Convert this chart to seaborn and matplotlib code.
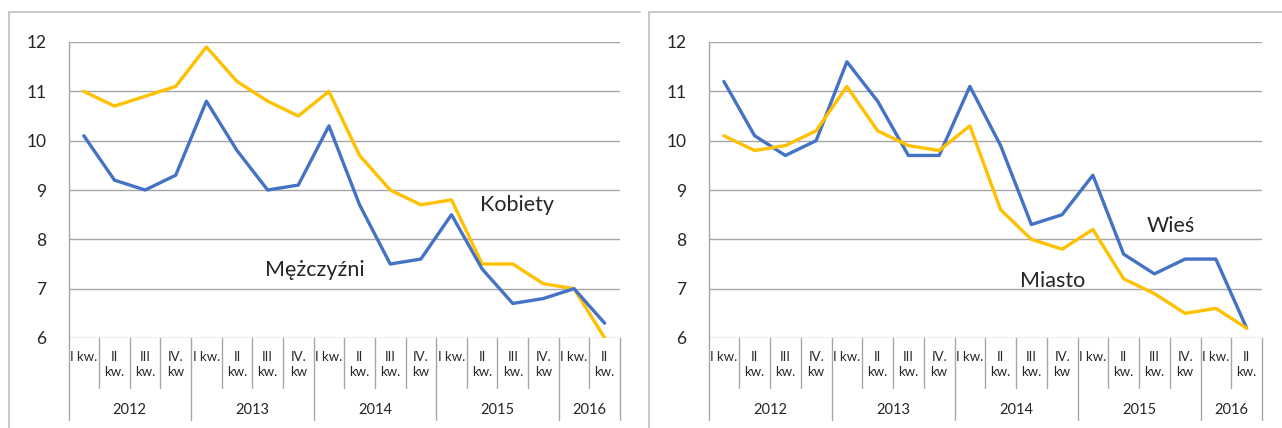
import pandas as pd
import seaborn as sns
import matplotlib.pyplot as plt
from matplotlib.lines import Line2D

# dane: stopa (kwartalnie, 2012 I - 2016 II)
kwartaly = ['I kw.', 'II\nkw.', 'III\nkw.', 'IV.\nkw'] * 4 + ['I kw.', 'II\nkw.']
lata = ['2012', '2013', '2014', '2015', '2016']
lata_dl = [4, 4, 4, 4, 2]

kobiety = [11.0, 10.7, 10.9, 11.1, 11.9, 11.2, 10.8, 10.5, 11.0, 9.7, 9.0, 8.7, 8.8, 7.5, 7.5, 7.1, 7.0, 6.0]
mezczyzni = [10.1, 9.2, 9.0, 9.3, 10.8, 9.8, 9.0, 9.1, 10.3, 8.7, 7.5, 7.6, 8.5, 7.4, 6.7, 6.8, 7.0, 6.3]
wies = [11.2, 10.1, 9.7, 10.0, 11.6, 10.8, 9.7, 9.7, 11.1, 9.9, 8.3, 8.5, 9.3, 7.7, 7.3, 7.6, 7.6, 6.2]
miasto = [10.1, 9.8, 9.9, 10.2, 11.1, 10.2, 9.9, 9.8, 10.3, 8.6, 8.0, 7.8, 8.2, 7.2, 6.9, 6.5, 6.6, 6.2]

BLUE = '#4472C4'
ORANGE = '#FFC000'
GRID = '#A6A6A6'
BORDER = '#BFBFBF'

sns.set_style('white')
plt.rcParams['font.family'] = ['Lato', 'DejaVu Sans']

W, H = 1282, 428
fig = plt.figure(figsize=(W / 100, H / 100), dpi=100)


def px_axes(x0, x1, ytop, ybot):
    return fig.add_axes([x0 / W, 1 - ybot / H, (x1 - x0) / W, (ybot - ytop) / H])


def long_df(s1, n1, s2, n2):
    n = len(s1)
    return pd.DataFrame({
        'idx': list(range(n)) * 2,
        'wartosc': s1 + s2,
        'seria': [n1] * n + [n2] * n,
    })


def draw_panel(ax, df, colors, labels):
    sns.lineplot(data=df, x='idx', y='wartosc', hue='seria', palette=colors,
                 linewidth=2.4, legend=False, ax=ax, zorder=3)
    ax.set_xlim(-0.5, len(kwartaly) - 0.5)
    ax.set_ylim(6, 12)
    ax.set_yticks(range(6, 13))
    ax.grid(axis='y', color=GRID, lw=1)
    ax.grid(axis='x', visible=False)
    ax.set_xticks([])
    ax.set_xlabel('')
    ax.set_ylabel('')
    for s in ['top', 'right', 'bottom']:
        ax.spines[s].set_visible(False)
    ax.spines['left'].set_color(GRID)
    ax.spines['left'].set_linewidth(1)
    ax.tick_params(axis='y', length=6, width=1, color=GRID, labelsize=12.5, pad=10)

    trans = ax.get_xaxis_transform()
    hpx = 296.0
    # separatory kategorii
    bounds = [0]
    for d in lata_dl:
        bounds.append(bounds[-1] + d)
    for k in range(len(kwartaly) + 1):
        yb = -(420 - 338) / hpx if k in bounds else -(388 - 338) / hpx
        ax.plot([k - 0.5, k - 0.5], [0, yb], color=GRID, lw=1, transform=trans, clip_on=False)
    for i, q in enumerate(kwartaly):
        ax.text(i, -(351 - 338) / hpx, q, transform=trans, ha='center', va='top',
                fontsize=9.5, linespacing=1.35)
    for j, rok in enumerate(lata):
        c = (bounds[j] + bounds[j + 1]) / 2 - 0.5
        ax.text(c, -(410 - 338) / hpx, rok, transform=trans, ha='center', va='center',
                fontsize=10.5)
    for txt, x, y in labels:
        ax.text(x, y, txt, fontsize=15.5, ha='left', va='baseline')


ax1 = px_axes(68.5, 620, 42, 338)
draw_panel(ax1, long_df(kobiety, 'Kobiety', mezczyzni, 'Mężczyźni'),
           {'Kobiety': ORANGE, 'Mężczyźni': BLUE},
           [('Kobiety', 12.93, 8.57), ('Mężczyźni', 5.9, 7.26)])

ax2 = px_axes(708.5, 1262, 42, 338)
draw_panel(ax2, long_df(wies, 'Wieś', miasto, 'Miasto'),
           {'Wieś': BLUE, 'Miasto': ORANGE},
           [('Wieś', 13.74, 8.15), ('Miasto', 9.62, 7.04)])

# ramki paneli
for x0, x1 in [(9, 640), (649, 1282)]:
    fig.add_artist(Line2D([x0 / W, x0 / W], [0, 1 - 12 / H], color=BORDER, lw=1.2))
    fig.add_artist(Line2D([x0 / W, x1 / W], [1 - 12 / H, 1 - 12 / H], color=BORDER, lw=1.2))

fig.savefig('out.png', dpi=100)
